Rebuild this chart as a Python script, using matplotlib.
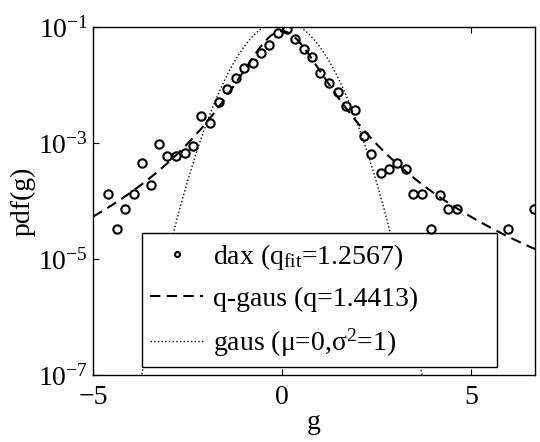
import numpy as np
import matplotlib
matplotlib.use('Agg')
import matplotlib.pyplot as plt
from matplotlib.ticker import FixedLocator, FuncFormatter

plt.rcParams['font.family'] = 'Liberation Serif'
plt.rcParams['mathtext.fontset'] = 'custom'
plt.rcParams['mathtext.rm'] = 'Liberation Serif'
plt.rcParams['mathtext.it'] = 'Liberation Serif'
plt.rcParams['mathtext.default'] = 'regular'

g_vals = [-4.59, -4.37, -4.15, -3.92, -3.71, -3.47, -3.26, -3.03, -2.80, -2.57,
          -2.35, -2.13, -1.90, -1.67, -1.44, -1.22, -1.00, -0.76, -0.56, -0.34,
          -0.10, 0.14, 0.35, 0.59, 0.81, 1.02, 1.25, 1.49, 1.71, 1.93,
          2.17, 2.37, 2.63, 2.84, 3.05, 3.28, 3.48, 3.72, 3.95, 4.18,
          4.40, 4.63, 5.98, 6.67]
log_pdf = [-3.88, -4.49, -4.13, -3.88, -3.35, -3.72, -3.01, -3.22, -3.22, -3.18,
           -3.05, -2.53, -2.66, -2.29, -2.07, -1.88, -1.71, -1.62, -1.44, -1.31,
           -1.11, -1.04, -1.21, -1.38, -1.51, -1.79, -1.96, -2.12, -2.36, -2.43,
           -2.88, -3.19, -3.51, -3.44, -3.35, -3.45, -3.88, -3.88, -4.49, -3.89,
           -4.13, -4.13, -4.49, -4.13]
pdf_vals = 10 ** np.array(log_pdf)

# fitted curve parameters
q = 1.4413
qg_amp, qg_beta = 0.085, 2.25
gs_amp, gs_sigma = 0.127, 0.70

x = np.linspace(-5, 6.7, 600)
qgaus = qg_amp * (1 + (q - 1) * qg_beta * x ** 2) ** (-1 / (q - 1))
gaus = gs_amp * np.exp(-x ** 2 / (2 * gs_sigma ** 2))

fig = plt.figure(figsize=(5.4, 4.42), dpi=100)
ax = fig.add_axes([93 / 540, 1 - 375 / 442, 442 / 540, 348 / 442])

ax.plot(g_vals, pdf_vals, 'o', mfc='none', mec='black', ms=6, mew=1.5,
        zorder=4, label=r'dax (q$_{fit}$=1.2567)')
ax.plot(x, qgaus, '--', color='black', lw=1.5, dashes=(5, 3),
        label='q-gaus (q=1.4413)')
ax.plot(x, gaus, ':', color='black', lw=1.0,
        label=r'gaus ($\mu$=0,$\sigma^2$=1)')

ax.set_yscale('log')
ax.set_xlim(-5, 6.7)
ax.set_ylim(1e-7, 1e-1)
ax.xaxis.set_major_locator(FixedLocator([-5, 0, 5]))
ax.yaxis.set_major_locator(FixedLocator([1e-7, 1e-5, 1e-3, 1e-1]))
ax.yaxis.set_minor_locator(FixedLocator([]))
ax.yaxis.set_major_formatter(FuncFormatter(lambda v, p: r'$10^{%d}$' % round(np.log10(v))))
ax.tick_params(direction='in', length=4, labelsize=20, top=True, right=False)
ax.tick_params(axis='x', pad=7)
for s in ax.spines.values():
    s.set_linewidth(1.0)

ax.set_xlabel('g', fontsize=20, labelpad=0)
ax.set_ylabel('pdf(g)', fontsize=20, labelpad=2)

leg = ax.legend(loc='lower left', bbox_to_anchor=(0.111, 0.023, 0.803, 0.385),
                mode='expand', borderaxespad=0, fontsize=20, frameon=True,
                fancybox=False, edgecolor='black', framealpha=1, markerscale=0.6,
                handlelength=1.9, handletextpad=0.35, borderpad=0.3,
                labelspacing=0.52)
leg.get_frame().set_linewidth(1.0)
leg.set_zorder(3)

fig.savefig('out.png', dpi=100)
